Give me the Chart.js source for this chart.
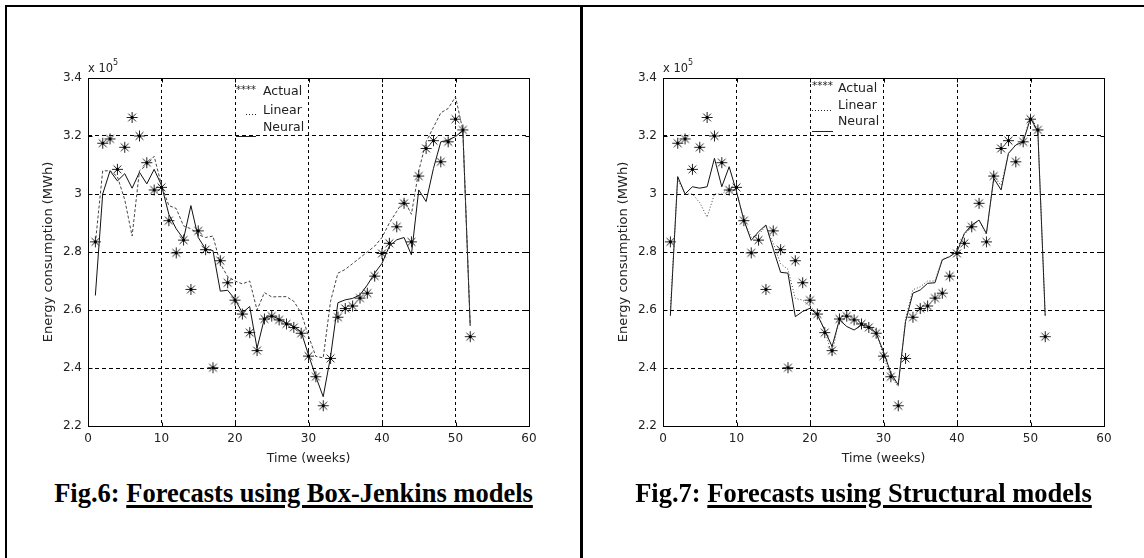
<!DOCTYPE html>
<html>
<head>
<meta charset="utf-8">
<script src="https://cdn.jsdelivr.net/npm/chart.js@4.4.1/dist/chart.umd.min.js"></script>
<style>
  html, body { margin: 0; padding: 0; background: #fff; }
  body { width: 1144px; height: 558px; position: relative; overflow: hidden; }
  .frame { position: absolute; background: #000; }
  canvas { position: absolute; }
  .mult { position: absolute; top: 61px; font: 11.5px "DejaVu Sans", sans-serif; color: #222; line-height: 14px; white-space: nowrap; }
  .mult sup { font-size: 8px; position: relative; top: -2px; vertical-align: top; line-height: 8px; }
  .caption { position: absolute; top: 478px; line-height: 26.5px; font: bold 26.5px "Liberation Serif", "Times New Roman", serif; text-align: center; white-space: nowrap; color: #000; }
  .caption u { text-decoration-thickness: 3px; text-underline-offset: 3px; }
</style>
</head>
<body>
<div class="frame" style="left:5px;top:5px;width:1139px;height:2px"></div>
<div class="frame" style="left:5px;top:5px;width:2px;height:553px"></div>
<div class="frame" style="left:580px;top:5px;width:3px;height:553px"></div>

<canvas id="fig6" width="580" height="470" style="left:0;top:0"></canvas>
<canvas id="fig7" width="569" height="470" style="left:575px;top:0"></canvas>

<div class="mult" style="left:88px">x 10<sup>5</sup></div>
<div class="mult" style="left:663px">x 10<sup>5</sup></div>

<div class="caption" style="left:7px;width:573px">Fig.6: <u>Forecasts using Box-Jenkins models</u></div>
<div class="caption" style="left:583px;width:561px">Fig.7: <u>Forecasts using Structural models</u></div>

<script>
// weekly energy consumption, in units of 10^5 MWh
const weeks = [1, 2, 3, 4, 5, 6, 7, 8, 9, 10, 11, 12, 13, 14, 15, 16, 17, 18, 19, 20, 21, 22, 23, 24, 25, 26,
  27, 28, 29, 30, 31, 32, 33, 34, 35, 36, 37, 38, 39, 40, 41, 42, 43, 44, 45, 46, 47, 48, 49, 50, 51, 52];

const actual = [2.835, 3.175, 3.19, 3.085, 3.161, 3.264, 3.2, 3.108, 3.014, 3.023, 2.908, 2.797, 2.841,
  2.671, 2.873, 2.808, 2.401, 2.77, 2.694, 2.634, 2.586, 2.522, 2.46, 2.569, 2.579, 2.566, 2.552, 2.54,
  2.52, 2.441, 2.37, 2.27, 2.433, 2.575, 2.605, 2.614, 2.641, 2.658, 2.717, 2.795, 2.83, 2.887, 2.968,
  2.835, 3.062, 3.157, 3.184, 3.111, 3.18, 3.258, 3.221, 2.508];

// Fig.6 - Box-Jenkins
const bjLinear = [2.83, 3.08, 3.08, 3.06, 2.98, 2.855, 3.08, 3.1, 3.13, 3.03, 2.96, 2.95, 2.89, 2.88,
  2.86, 2.85, 2.855, 2.76, 2.715, 2.7, 2.69, 2.7, 2.6, 2.66, 2.645, 2.646, 2.646, 2.63, 2.59, 2.51, 2.44,
  2.435, 2.63, 2.727, 2.74, 2.76, 2.78, 2.8, 2.82, 2.85, 2.9, 2.94, 2.98, 2.93, 3.08, 3.18, 3.23, 3.28,
  3.295, 3.335, 3.22, 2.55];
const bjNeural = [2.65, 3.0, 3.08, 3.045, 3.07, 3.02, 3.075, 3.035, 3.085, 3.03, 2.93, 2.88, 2.845, 2.96,
  2.85, 2.81, 2.805, 2.665, 2.668, 2.637, 2.59, 2.612, 2.468, 2.571, 2.58, 2.568, 2.554, 2.543, 2.525,
  2.445, 2.37, 2.301, 2.439, 2.625, 2.635, 2.64, 2.652, 2.686, 2.727, 2.761, 2.82, 2.842, 2.85, 2.79,
  3.014, 2.974, 3.088, 3.18, 3.186, 3.198, 3.218, 2.545];

// Fig.7 - Structural
const stLinear = [2.6, 3.05, 3.0, 3.0, 2.97, 2.92, 3.0, 3.0, 3.02, 3.01, 2.91, 2.85, 2.86, 2.89, 2.83,
  2.76, 2.74, 2.64, 2.634, 2.612, 2.589, 2.53, 2.445, 2.577, 2.58, 2.566, 2.555, 2.543, 2.531, 2.439,
  2.37, 2.336, 2.57, 2.67, 2.68, 2.7, 2.7, 2.775, 2.785, 2.8, 2.86, 2.89, 2.91, 2.86, 3.06, 3.03, 3.14,
  3.17, 3.18, 3.27, 3.22, 2.58];
const stNeural = [2.58, 3.06, 3.0, 3.025, 3.02, 3.025, 3.123, 3.025, 3.094, 3.008, 2.91, 2.84, 2.87,
  2.893, 2.81, 2.73, 2.727, 2.577, 2.595, 2.606, 2.583, 2.531, 2.474, 2.566, 2.543, 2.531, 2.548, 2.543,
  2.52, 2.456, 2.382, 2.342, 2.56, 2.658, 2.669, 2.692, 2.694, 2.773, 2.784, 2.801, 2.864, 2.893, 2.91,
  2.864, 3.054, 3.014, 3.14, 3.169, 3.18, 3.261, 3.215, 2.58];

const xTicks = [0, 10, 20, 30, 40, 50, 60];
const yTicks = [2.2, 2.4, 2.6, 2.8, 3, 3.2, 3.4];
const legendLabels = ['Actual', 'Linear', 'Neural'];

Chart.defaults.font.family = '"DejaVu Sans", sans-serif';
Chart.defaults.font.size = 12;
Chart.defaults.color = '#222';

const pts = (vals) => weeks.map((w, i) => ({ x: w, y: vals[i] }));

// asterisk marker with a dark centre, like the matlab '*'
function starMarker() {
  const c = document.createElement('canvas');
  c.width = 13; c.height = 13;
  const g = c.getContext('2d');
  g.strokeStyle = '#222';
  g.lineWidth = 1;
  g.beginPath();
  g.moveTo(6.5, 1); g.lineTo(6.5, 12);
  g.moveTo(1, 6.5); g.lineTo(12, 6.5);
  g.moveTo(2.6, 2.6); g.lineTo(10.4, 10.4);
  g.moveTo(10.4, 2.6); g.lineTo(2.6, 10.4);
  g.stroke();
  g.fillStyle = '#000';
  g.fillRect(5, 5, 3, 3);
  return c;
}
const star = starMarker();

// MATLAB style box with inward ticks
const boxPlugin = {
  id: 'box',
  afterDraw(chart) {
    const { ctx, chartArea: a, scales: { x, y } } = chart;
    const l = Math.round(a.left) + 0.5, r = Math.round(a.right) + 0.5;
    const t = Math.round(a.top) + 0.5, b = Math.round(a.bottom) + 0.5;
    ctx.save();
    ctx.strokeStyle = '#000';
    ctx.lineWidth = 1;
    ctx.strokeRect(l, t, r - l, b - t);
    ctx.beginPath();
    x.ticks.forEach((tk) => {
      const px = Math.round(x.getPixelForValue(tk.value)) + 0.5;
      ctx.moveTo(px, b); ctx.lineTo(px, b - 4);
      ctx.moveTo(px, t); ctx.lineTo(px, t + 4);
    });
    y.ticks.forEach((tk) => {
      const py = Math.round(y.getPixelForValue(tk.value)) + 0.5;
      ctx.moveTo(l, py); ctx.lineTo(l + 4, py);
      ctx.moveTo(r, py); ctx.lineTo(r - 4, py);
    });
    ctx.stroke();
    ctx.restore();
  }
};

// legend drawn inside the plot like the matlab one
const legendPlugin = {
  id: 'innerLegend',
  afterDatasetsDraw(chart, args, opts) {
    const { ctx, chartArea: a } = chart;
    const lx = a.left + opts.markX;
    ctx.save();
    ctx.fillStyle = '#222';
    ctx.strokeStyle = '#222';
    ctx.lineWidth = 1;
    // actual
    ctx.font = '11px "DejaVu Sans", sans-serif';
    ctx.textBaseline = 'middle';
    ctx.textAlign = 'left';
    ctx.fillText('****', lx, a.top + opts.rows[0].my + 2, opts.markW);
    // linear
    ctx.beginPath();
    ctx.setLineDash([1, 2]);
    ctx.moveTo(lx + opts.dotsStart, a.top + opts.rows[1].my + 0.5);
    ctx.lineTo(lx + opts.markW, a.top + opts.rows[1].my + 0.5);
    ctx.stroke();
    // neural
    ctx.beginPath();
    ctx.setLineDash([]);
    ctx.moveTo(lx, a.top + opts.rows[2].my + 0.5);
    ctx.lineTo(lx + opts.markW, a.top + opts.rows[2].my + 0.5);
    ctx.stroke();
    ctx.font = '12.5px "DejaVu Sans", sans-serif';
    legendLabels.forEach((lab, i) => {
      ctx.fillText(lab, a.left + opts.textX, a.top + opts.rows[i].ty);
    });
    ctx.restore();
  }
};

function makeChart(id, linear, neural, linearDash, legendOpts, padRight) {
  return new Chart(document.getElementById(id), {
    type: 'scatter',
    data: {
      datasets: [
        {
          label: 'Actual',
          data: pts(actual),
          showLine: false,
          pointStyle: star,
          pointRadius: 6,
        },
        {
          label: 'Linear',
          data: pts(linear),
          showLine: true,
          pointRadius: 0,
          borderColor: '#444',
          borderWidth: 1,
          borderDash: linearDash,
          tension: 0,
        },
        {
          label: 'Neural',
          data: pts(neural),
          showLine: true,
          pointRadius: 0,
          borderColor: '#111',
          borderWidth: 1,
          tension: 0,
        },
      ],
    },
    options: {
      responsive: false,
      animation: false,
      events: [],
      layout: { padding: { top: 78, right: padRight, bottom: 0, left: 0 } },
      plugins: {
        legend: { display: false },
        tooltip: { enabled: false },
        innerLegend: legendOpts,
      },
      scales: {
        x: {
          type: 'linear',
          min: 0,
          max: 60,
          afterBuildTicks: (s) => { s.ticks = xTicks.map((v) => ({ value: v })); },
          afterFit: (s) => { s.height = 44; },
          ticks: { padding: 6, callback: (v) => String(v) },
          grid: { color: '#000', lineWidth: 1, drawTicks: false },
          border: { display: false, dash: [3, 3] },
          title: { display: true, text: 'Time (weeks)', font: { size: 12.5 }, padding: { top: 0, bottom: 4 } },
        },
        y: {
          min: 2.2,
          max: 3.4,
          afterBuildTicks: (s) => { s.ticks = yTicks.map((v) => ({ value: v })); },
          afterFit: (s) => { s.width = 88; },
          ticks: { padding: 6, callback: (v) => String(v) },
          grid: { color: '#000', lineWidth: 1, drawTicks: false },
          border: { display: false, dash: [4, 3] },
          title: { display: true, text: 'Energy consumption (MWh)', font: { size: 13 }, padding: { top: 41, bottom: 0 } },
        },
      },
    },
    plugins: [boxPlugin, legendPlugin],
  });
}

makeChart('fig6', bjLinear, bjNeural, [3, 2], {
  markX: 148, markW: 20, dotsStart: 10, textX: 175,
  rows: [{ my: 10, ty: 14 }, { my: 36, ty: 33 }, { my: 58, ty: 50 }],
}, 51);

makeChart('fig7', stLinear, stNeural, [1, 2], {
  markX: 149, markW: 21, dotsStart: 0, textX: 175,
  rows: [{ my: 6, ty: 11 }, { my: 32, ty: 28 }, { my: 53, ty: 44 }],
}, 40);
</script>
</body>
</html>
